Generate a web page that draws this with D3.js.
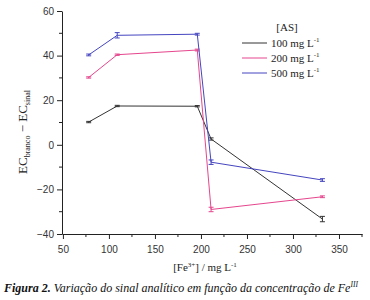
<!DOCTYPE html>
<html>
<head>
<meta charset="utf-8">
<script src="https://cdn.jsdelivr.net/npm/d3@7"></script>
<style>
  body { margin: 0; background: #fff; }
  svg { display: block; }
</style>
</head>
<body>
<div id="chart"></div>
<script>
// dados
var feConc = [78, 109, 196, 211, 332];
var as100 = [10.2, 17.4, 17.3, 2.6, -33.3];
var as200 = [30.2, 40.4, 42.5, -29.0, -23.3];
var as500 = [40.3, 49.1, 49.6, -7.8, -15.8];
var err100 = [0.3, 0.3, 0.3, 0.5, 1.2];
var err200 = [0.3, 0.3, 0.4, 1.0, 0.4];
var err500 = [0.4, 1.2, 0.4, 1.0, 0.6];
var seriesNames = ['100 mg L', '200 mg L', '500 mg L'];
var xTicks = [50, 100, 150, 200, 250, 300, 350];
var yTicks = [-40, -20, 0, 20, 40, 60];

var W = 370, H = 300;
var margin = { top: 11, right: 8, bottom: 66, left: 62 };
var width = W - margin.left - margin.right,
    height = H - margin.top - margin.bottom;

var svg = d3.select('#chart').append('svg')
    .attr('width', W).attr('height', H);
var g = svg.append('g')
    .attr('transform', `translate(${margin.left},${margin.top})`);

var x = d3.scaleLinear().domain([49, 375]).range([0, width]);
var y = d3.scaleLinear().domain([-40, 60]).range([height, 0]);

var colors = ['#333333', '#e5468d', '#4545c0'];
var series = [as100, as200, as500].map((vals, i) => ({
    name: seriesNames[i],
    color: colors[i],
    points: vals.map((v, j) => ({ x: feConc[j], y: v, e: [err100, err200, err500][i][j] }))
}));

// eixos
var axisColor = '#222';
var xAxis = g.append('g')
    .attr('transform', `translate(0,${height})`)
    .call(d3.axisBottom(x).tickValues(xTicks).tickSize(5).tickSizeOuter(0));
var yAxis = g.append('g')
    .call(d3.axisLeft(y).tickValues(yTicks).tickSize(5).tickSizeOuter(0));
[xAxis, yAxis].forEach(a => {
    a.selectAll('path,line').attr('stroke', axisColor);
    a.selectAll('text').attr('font-family', 'Liberation Sans, Arial, sans-serif')
        .attr('font-size', 10).attr('fill', '#333');
});
xAxis.selectAll('text').attr('dy', '1.1em');
// ticks menores
g.append('g').selectAll('line')
    .data(d3.range(75, 376, 50)).enter().append('line')
    .attr('x1', d => x(d)).attr('x2', d => x(d))
    .attr('y1', height).attr('y2', height + 3)
    .attr('stroke', axisColor);
g.append('g').selectAll('line')
    .data(d3.range(-30, 60, 20)).enter().append('line')
    .attr('x1', 0).attr('x2', -3)
    .attr('y1', d => y(d)).attr('y2', d => y(d))
    .attr('stroke', axisColor);

// linhas
var line = d3.line().x(d => x(d.x)).y(d => y(d.y));
var sg = g.selectAll('g.serie').data(series).enter().append('g').attr('class', 'serie');
sg.append('path')
    .attr('d', d => line(d.points))
    .attr('fill', 'none')
    .attr('stroke', d => d.color)
    .attr('stroke-width', 1);

// barras de erro
var eb = sg.selectAll('g.eb').data(d => d.points.map(p => Object.assign({ c: d.color }, p)))
    .enter().append('g').attr('class', 'eb');
eb.append('line')
    .attr('x1', d => x(d.x)).attr('x2', d => x(d.x))
    .attr('y1', d => y(d.y - d.e)).attr('y2', d => y(d.y + d.e))
    .attr('stroke', d => d.c);
[-1, 1].forEach(s => {
    eb.append('line')
        .attr('x1', d => x(d.x) - 2.5).attr('x2', d => x(d.x) + 2.5)
        .attr('y1', d => y(d.y + s * d.e)).attr('y2', d => y(d.y + s * d.e))
        .attr('stroke', d => d.c);
});

// legenda
var serif = 'Liberation Serif, Times New Roman, serif';
var leg = svg.append('g').attr('font-family', serif).attr('font-size', 11).attr('fill', '#222');
leg.append('text').attr('x', 287).attr('y', 31).attr('text-anchor', 'middle').text('[AS]');
series.forEach((s, i) => {
    var ly = 43 + i * 15;
    leg.append('line').attr('x1', 242).attr('x2', 267).attr('y1', ly).attr('y2', ly)
        .attr('stroke', s.color);
    var t = leg.append('text').attr('x', 271).attr('y', ly + 4).text(s.name);
    t.append('tspan').attr('font-size', 7).attr('dy', -5).text('-1');
});

// títulos dos eixos
var xl = svg.append('text').attr('font-family', serif).attr('font-size', 11).attr('fill', '#222')
    .attr('x', 205).attr('y', 271).attr('text-anchor', 'middle');
xl.append('tspan').text('[Fe');
xl.append('tspan').attr('font-size', 7).attr('dy', -4).text('3+');
xl.append('tspan').attr('dy', 4).text('] / mg L');
xl.append('tspan').attr('font-size', 7).attr('dy', -4).text('-1');

var yl = svg.append('text').attr('font-family', serif).attr('font-size', 13).attr('fill', '#222')
    .attr('text-anchor', 'middle')
    .attr('transform', 'translate(27,132) rotate(-90)');
yl.append('tspan').text('EC');
yl.append('tspan').attr('font-size', 8).attr('dy', 3).text('branco');
yl.append('tspan').attr('dy', -3).text(' − EC');
yl.append('tspan').attr('font-size', 8).attr('dy', 3).text('sinal');

// legenda da figura (ajusta o tamanho para caber até ~362px)
var cap = svg.append('text').attr('font-family', serif).attr('font-size', 12).attr('fill', '#111')
    .attr('x', 4).attr('y', 292).attr('font-style', 'italic');
cap.append('tspan').attr('font-weight', 'bold').text('Figura 2.');
cap.append('tspan').text(' Variação do sinal analítico em função da concentração de Fe');
cap.append('tspan').attr('font-size', 7.5).attr('dy', -5).text('III');
var capW = cap.node().getBBox().width;
cap.attr('font-size', 12 * 356 / capW);
</script>
</body>
</html>
